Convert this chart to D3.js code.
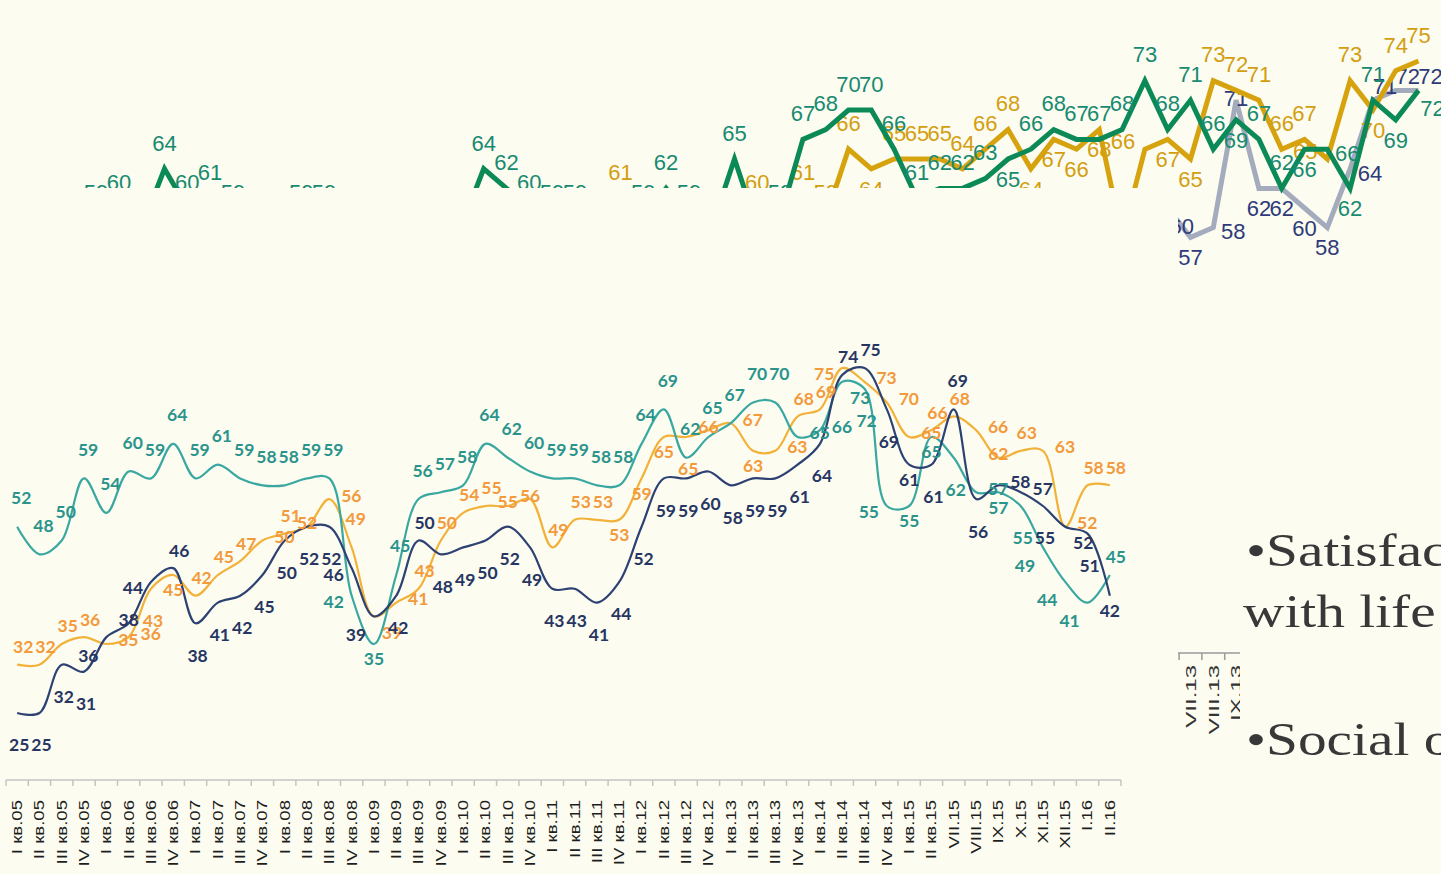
<!DOCTYPE html>
<html>
<head>
<meta charset="utf-8">
<script src="https://cdn.jsdelivr.net/npm/d3@7"></script>
<style>
  body { margin: 0; background: #fcfcf1; overflow: hidden; }
</style>
</head>
<body>
<svg id="chart" width="1441" height="874"></svg>
<script>
// ---------- lower chart (quarterly, then monthly) ----------
const periods = ["I кв.05","II кв.05","III кв.05","IV кв.05","I кв.06","II кв.06","III кв.06","IV кв.06",
  "I кв.07","II кв.07","III кв.07","IV кв.07","I кв.08","II кв.08","III кв.08","IV кв.08",
  "I кв.09","II кв.09","III кв.09","IV кв.09","I кв.10","II кв.10","III кв.10","IV кв.10",
  "I кв.11","II кв.11","III кв.11","IV кв.11","I кв.12","II кв.12","III кв.12","IV кв.12",
  "I кв.13","II кв.13","III кв.13","IV кв.13","I кв.14","II кв.14","III кв.14","IV кв.14",
  "I кв.15","II кв.15","VII.15","VIII.15","IX.15","X.15","XI.15","XII.15","I.16","II.16"];

const teal = [52,48,50,59,54,60,59,64,59,61,59,58,58,59,59,42,35,45,56,57,58,64,62,60,59,
  59,58,58,64,69,62,65,67,70,70,65,66,73,72,55,55,65,62,57,57,55,49,44,41,45];
const navy = [25,25,32,31,36,38,44,46,38,41,42,45,50,52,52,46,39,42,50,48,49,50,52,49,43,
  43,41,44,52,59,59,60,58,59,59,61,64,74,75,69,61,61,69,56,58,57,55,52,51,42];
const orange = [32,32,35,36,35,36,43,45,42,45,47,50,51,52,56,49,39,41,43,50,54,55,55,56,49,
  53,53,53,59,65,65,66,67,63,63,68,69,75,73,70,65,66,68,66,62,63,63,52,58,58];

// where each value label sits relative to its point (one letter per point)
const tealPos   = "tttttttttttttttldttttttttttttttttttrrRblddbrdbLLLu";
const navyPos   = "bbbbLclubbbbbbblLbubbbbbbbbbbbbbbbbbbuubdbtbrrbRbd";
const orangePos = "uuuurrbduuurucrtRruuuuccuuudddbcrdruulrrruurcurruu";

// ---------- upper chart (monthly, mostly covered) ----------
const topMonths = ["IV.09","V.09","VI.09","VII.09","VIII.09","IX.09","X.09","XI.09","XII.09",
  "I.10","II.10","III.10","IV.10","V.10","VI.10","VII.10","VIII.10","IX.10","X.10","XI.10","XII.10",
  "I.11","II.11","III.11","IV.11","V.11","VI.11","VII.11","VIII.11","IX.11","X.11","XI.11","XII.11",
  "I.12","II.12","III.12","IV.12","V.12","VI.12","VII.12","VIII.12","IX.12","X.12","XI.12","XII.12",
  "I.13","II.13","III.13","IV.13","V.13","VI.13","VII.13","VIII.13","IX.13","X.13","XI.13","XII.13",
  "I.14","II.14","III.14","IV.14","V.14"];

const topGreen = [57,58,57,59,60,58,64,60,61,59,57,58,59,59,56,55,55,56,57,58,
  64,62,60,59,59,57,58,59,62,59,58,65,58,59,67,68,70,70,66,61,62,62,63,65,66,68,67,67,68,73,68,
  71,66,69,67,62,66,66,62,71,69,72];
const topGold = [50,52,51,53,54,52,55,53,54,52,55,56,54,53,52,51,53,54,55,56,57,56,55,57,58,57,
  61,57,58,56,57,58,60,58,61,59,66,64,65,65,65,64,66,68,64,67,66,68,57,66,67,65,73,72,71,66,
  67,65,73,70,74,75];
const topGray = [60,57,58,71,62,62,60,58,64,71,72,72];   // VI.13 .. V.14

const topGreenPos = "tttttttttttttttttttttttttttttttttttttttttttbtttttttttbttbrbtbR";
const topGoldPos  = "tttttttttttttttttttttttttttttttttttttbttttttbbbbtlbbtttttltbtt";
const topGrayPos  = "Rbrcbbbbruuu";

const bg = "#fcfcf1";
const svg = d3.select("#chart");

// ===== upper chart =====
const topX = d3.scaleBand().domain(topMonths).range([16.3, 16.3 + 22.8 * topMonths.length]);
const topY = d3.scaleLinear().domain([50, 75]).range([306, 61]);
const tcx = m => topX(m) + topX.bandwidth() / 2;
const topOff = { t: [0, -24], b: [0, 22], l: [-22, -6], r: [20, 6], c: [0, 0], R: [14, 20], u: [12, -12] };

const topSeries = [
  { months: topMonths, values: topGreen, pos: topGreenPos, line: "#0b8a57", text: "#178a70" },
  { months: topMonths, values: topGold, pos: topGoldPos, line: "#d6a30e", text: "#d39e10" },
  { months: topMonths.slice(-topGray.length), values: topGray, pos: topGrayPos, line: "#a4abbd", text: "#2e3a7a" }
];

const topG = svg.append("g");
const topLine = d3.line().x(d => tcx(d.m)).y(d => topY(d.v));

// gray first so green / gold sit above it
[topSeries[2], topSeries[1], topSeries[0]].forEach(s => {
  const pts = s.months.map((m, i) => ({ m, v: s.values[i], p: s.pos[i] }));
  topG.append("path")
    .datum(pts)
    .attr("d", topLine)
    .attr("fill", "none")
    .attr("stroke", s.line)
    .attr("stroke-width", 5);
  topG.selectAll(null)
    .data(pts)
    .enter()
    .append("text")
    .attr("x", d => tcx(d.m) + topOff[d.p][0])
    .attr("y", d => topY(d.v) + topOff[d.p][1])
    .attr("text-anchor", "middle")
    .attr("dominant-baseline", "middle")
    .style("font-family", "'Liberation Sans Narrow', 'Liberation Sans', sans-serif")
    .style("font-size", "22px")
    .attr("fill", s.text)
    .text(d => d.v);
});

// upper chart x axis (only a sliver of it shows)
const topAxis = svg.append("g").attr("transform", "translate(0,653)");
topAxis.append("line")
  .attr("x1", topX.range()[0]).attr("x2", topX.range()[1])
  .attr("stroke", "#9a9a9a").attr("stroke-width", 1.5);
topAxis.selectAll(".tk")
  .data(topMonths)
  .enter()
  .append("line")
  .attr("x1", d => topX(d)).attr("x2", d => topX(d))
  .attr("y1", 0).attr("y2", 7)
  .attr("stroke", "#9a9a9a").attr("stroke-width", 1.5);
topAxis.selectAll(".tl")
  .data(topMonths)
  .enter()
  .append("text")
  .attr("transform", d => `translate(${tcx(d)},12) rotate(-90) scale(1.6,1)`)
  .attr("text-anchor", "end")
  .attr("dy", "0.35em")
  .style("font-family", "'Liberation Sans', Arial, sans-serif")
  .style("font-size", "15px")
  .attr("fill", "#333")
  .text(d => d);

// ===== panels laid over the upper chart =====
svg.append("rect").attr("x", 0).attr("y", 188).attr("width", 1178).attr("height", 686).attr("fill", bg);
svg.append("rect").attr("x", 1240).attr("y", 275).attr("width", 201).attr("height", 599).attr("fill", bg);

// ===== lower chart =====
const x = d3.scaleBand().domain(periods).range([6, 1121]);
const y = d3.scaleLinear().domain([20, 80]).range([747.5, 333.5]);
const cx = p => x(p) + x.bandwidth() / 2;
const off = { t: [4, -27], u: [6, -16], c: [0, -2], d: [0, 17], b: [2, 34], l: [-18, 8], L: [-18, 20], r: [22, -2], R: [18, 18] };

const series = [
  { values: orange, pos: orangePos, line: "#f2b23a", text: "#f29a3c" },
  { values: teal, pos: tealPos, line: "#3aa8a0", text: "#2a948c" },
  { values: navy, pos: navyPos, line: "#2d4272", text: "#263562" }
];

const lowG = svg.append("g");
const line = d3.line()
  .x(d => cx(d.p))
  .y(d => y(d.v))
  .curve(d3.curveCatmullRom.alpha(0.5));

series.forEach(s => {
  const pts = periods.map((p, i) => ({ p, v: s.values[i], c: s.pos[i] }));
  lowG.append("path")
    .datum(pts)
    .attr("d", line)
    .attr("fill", "none")
    .attr("stroke", s.line)
    .attr("stroke-width", 2.2);
  s.pts = pts;
});

series.forEach(s => {
  lowG.selectAll(null)
    .data(s.pts)
    .enter()
    .append("text")
    .attr("x", d => cx(d.p) + off[d.c][0])
    .attr("y", d => y(d.v) + off[d.c][1])
    .attr("text-anchor", "middle")
    .attr("dominant-baseline", "middle")
    .style("font-family", "Lato, 'Open Sans', sans-serif")
    .style("font-weight", 700)
    .style("font-size", "17.5px")
    .attr("fill", s.text)
    .text(d => d.v);
});

// x axis: ticks on band edges, labels in the middle
const xAxis = d3.axisBottom(x).tickSize(0).tickPadding(0);
const axG = svg.append("g")
  .attr("transform", "translate(0,780)")
  .call(xAxis);
axG.select(".domain").attr("stroke", "#c4c4c4").attr("stroke-width", 1.5)
  .attr("d", `M${x.range()[0]},0H${x.range()[1]}`);
axG.selectAll(".tick text")
  .attr("y", 0)
  .attr("x", -15)
  .attr("dy", "0.35em")
  .attr("text-anchor", "end")
  .attr("transform", "rotate(-90) scale(1.33,1)")
  .style("font-family", "'Liberation Sans', Arial, sans-serif")
  .style("font-size", "14px")
  .attr("fill", "#1e1e1e");
axG.selectAll(".edge")
  .data(periods.concat(["end"]))
  .enter()
  .append("line")
  .attr("x1", (d, i) => i < periods.length ? x(d) : x.range()[1])
  .attr("x2", (d, i) => i < periods.length ? x(d) : x.range()[1])
  .attr("y1", 0).attr("y2", 6)
  .attr("stroke", "#c4c4c4").attr("stroke-width", 1.5);

// ===== slide text on the right =====
const txt = svg.append("g")
  .style("font-family", "'Liberation Serif', 'DejaVu Serif', serif")
  .style("font-size", "47px")
  .attr("fill", "#383838");
txt.append("text").attr("transform", "translate(1246,566) scale(1.22,1)").text("•Satisfaction");
txt.append("text").attr("transform", "translate(1243,627) scale(1.22,1)").text("with life");
txt.append("text").attr("transform", "translate(1246,755) scale(1.22,1)").text("•Social optimism");
</script>
</body>
</html>
